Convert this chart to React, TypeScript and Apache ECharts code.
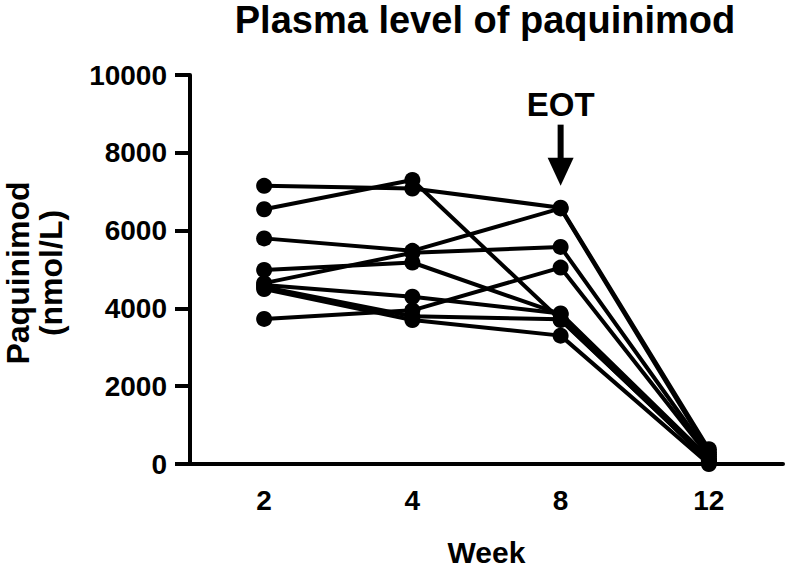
import React, { useEffect, useRef } from "react";
import * as echarts from "echarts";

const weeks = ["2", "4", "8", "12"];
const yTicks = [0, 2000, 4000, 6000, 8000, 10000];
const patient1 = [7150, 7080, 6590, 380];
const patient2 = [6550, 7300, 3700, 100];
const patient3 = [5800, 5480, 6570, 300];
const patient4 = [4990, 5180, 3850, 50];
const patient5 = [4650, 5430, 5580, 250];
const patient6 = [4600, 4300, 3870, 150];
const patient7 = [4550, 3800, 3720, 80];
const patient8 = [4500, 3700, 3300, 0];
const patient9 = [3730, 3950, 5050, 200];
const patients = [patient1, patient2, patient3, patient4, patient5, patient6, patient7, patient8, patient9];
const eotWeek = "8";
const eotValue = 6590;

const FONT = "Liberation Sans, Arial, Helvetica, sans-serif";

export default function App() {
  const ref = useRef<HTMLDivElement>(null);
  useEffect(() => {
    if (!ref.current) return;
    const chart = echarts.init(ref.current, null, { renderer: "svg" });
    chart.setOption({
      animation: false,
      grid: { left: 190, right: 4, top: 75, bottom: 101, containLabel: false },
      xAxis: {
        type: "category",
        data: weeks,
        boundaryGap: true,
        name: "Week",
        nameLocation: "middle",
        nameGap: 73,
        nameTextStyle: { fontFamily: FONT, fontWeight: "bold", fontSize: 30, color: "#000" },
        axisLine: { lineStyle: { color: "#000", width: 4 } },
        axisTick: { alignWithLabel: true, length: 13, lineStyle: { color: "#000", width: 4 } },
        axisLabel: { fontFamily: FONT, fontWeight: "bold", fontSize: 28, color: "#000", margin: 22 },
        splitLine: { show: false },
      },
      yAxis: {
        type: "value",
        min: yTicks[0],
        max: yTicks[yTicks.length - 1],
        interval: 2000,
        axisLine: { show: true, lineStyle: { color: "#000", width: 4 } },
        axisTick: { show: true, length: 15, lineStyle: { color: "#000", width: 4 } },
        axisLabel: {
          fontFamily: FONT,
          fontWeight: "bold",
          fontSize: 28,
          color: "#000",
          margin: 23,
          formatter: (v: number) => String(v),
        },
        splitLine: { show: false },
      },
      series: patients.map((p, i) => ({
        type: "line",
        name: "P" + (i + 1),
        data: p,
        symbol: "circle",
        symbolSize: 16,
        lineStyle: { color: "#000", width: 4 },
        itemStyle: { color: "#000" },
        z: 3,
      })),
    });
    const pt = chart.convertToPixel({ gridIndex: 0 }, [eotWeek, eotValue]) as number[];
    const cx = pt[0];
    const tipY = pt[1] - 22;
    chart.setOption({
      graphic: [
        {
          type: "text",
          x: 485,
          y: 20,
          style: {
            text: "Plasma level of paquinimod",
            font: `bold 38px ${FONT}`,
            fill: "#000",
            align: "center",
            verticalAlign: "middle",
          },
        },
        {
          type: "text",
          x: 34,
          y: 273,
          rotation: Math.PI / 2,
          style: {
            text: "Paquinimod\n(nmol/L)",
            font: `bold 32px ${FONT}`,
            lineHeight: 33,
            fill: "#000",
            align: "center",
            verticalAlign: "middle",
          },
        },
        {
          type: "text",
          x: cx,
          y: tipY - 81,
          style: {
            text: "EOT",
            font: `bold 33px ${FONT}`,
            fill: "#000",
            align: "center",
            verticalAlign: "middle",
          },
        },
        {
          type: "line",
          shape: { x1: cx, y1: tipY - 61, x2: cx, y2: tipY - 20 },
          style: { stroke: "#000", lineWidth: 6 },
        },
        {
          type: "polygon",
          shape: { points: [[cx - 13, tipY - 28], [cx + 13, tipY - 28], [cx, tipY]] },
          style: { fill: "#000" },
        },
      ],
    });
    return () => chart.dispose();
  }, []);
  return (
    <div
      ref={ref}
      style={{ position: "fixed", left: 0, top: 0, width: 787, height: 572, background: "#fff" }}
    />
  );
}
